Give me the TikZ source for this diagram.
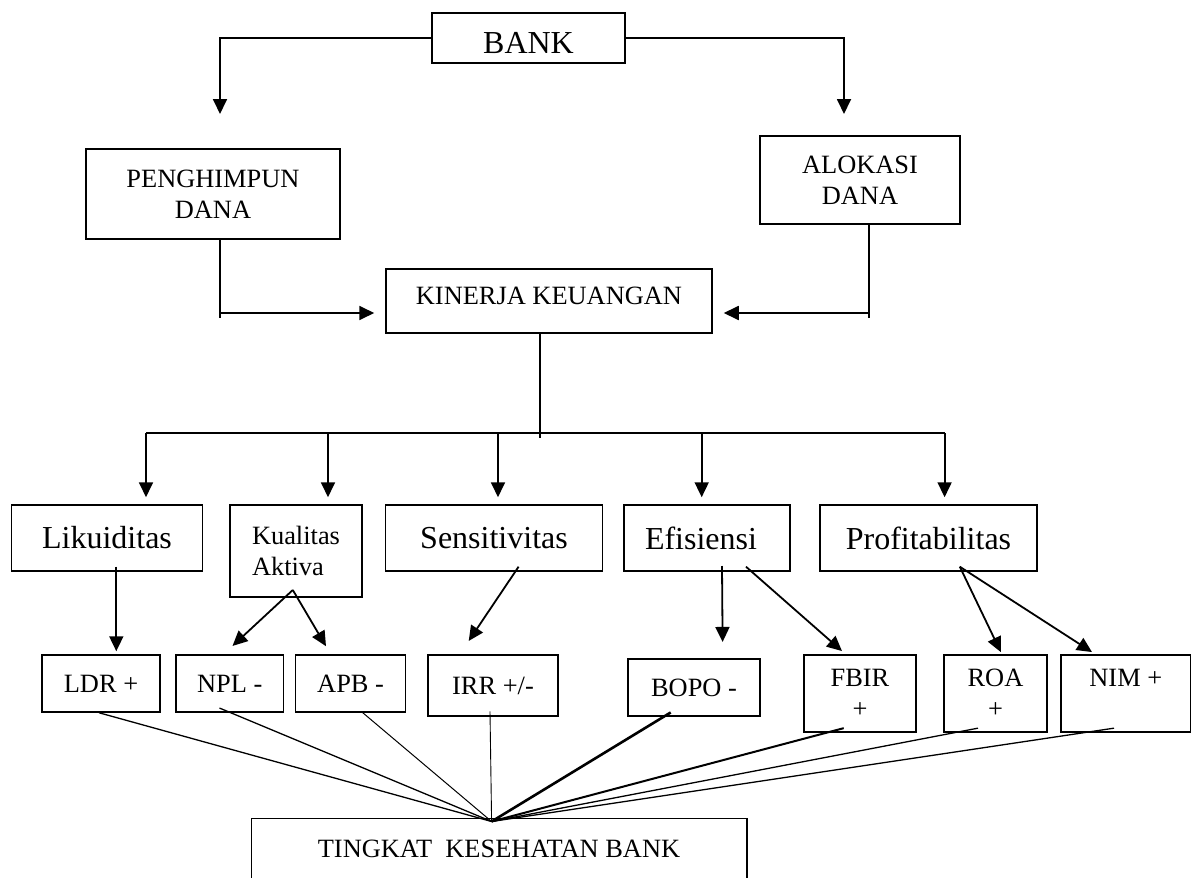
\documentclass[tikz,border=0pt]{standalone}
\usepackage{fontspec}
\setmainfont{Liberation Serif}
\usetikzlibrary{arrows.meta,calc}
\begin{document}
\begin{tikzpicture}[x=1pt,y=-1pt,
 box/.style={draw, line width=1.5pt, inner sep=0pt, align=center, font=\fontsize{26.4}{31}\selectfont},
 bigbox/.style={box, font=\fontsize{32}{38}\selectfont},
 conn/.style={line width=1.8pt},
 arr/.style={line width=1.8pt, -{Triangle[length=15pt,width=14pt]}},
 fan/.style={line width=1.3pt}]
\useasboundingbox (0,0) rectangle (1195,878);
% top
\node[bigbox, minimum width=193pt, minimum height=50pt, text height=31pt] (bank) at (528.5,38) {BANK};
\node[box, minimum width=254pt, minimum height=90pt] (peng) at (213,194) {PENGHIMPUN\\DANA};
\node[box, minimum width=200pt, minimum height=88pt] (alok) at (860,180) {ALOKASI\\DANA};
\node[box, minimum width=326pt, minimum height=64pt, text depth=10pt] (kin) at (549,301) {KINERJA KEUANGAN};
% middle row
\node[bigbox, minimum width=191pt, minimum height=66pt] (lik) at (107,538) {Likuiditas};
\node[box, align=left, minimum width=132pt, minimum height=92pt] (kual) at (296,551) {Kualitas\\Aktiva};
\node[bigbox, minimum width=217pt, minimum height=66pt] (sens) at (494,538) {Sensitivitas};
\node[bigbox, minimum width=166pt, minimum height=66pt] (efi) at (707,538) {\hspace*{-12pt}Efisiensi};
\node[bigbox, minimum width=217pt, minimum height=66pt] (prof) at (928.5,538) {Profitabilitas};
% bottom row
\node[box, minimum width=118pt, minimum height=57pt] (ldr) at (101,683.5) {LDR +};
\node[box, minimum width=107.5pt, minimum height=57pt] (npl) at (229.8,683.5) {NPL -};
\node[box, minimum width=110pt, minimum height=57pt] (apb) at (350.6,683.5) {APB -};
\node[box, minimum width=130pt, minimum height=61pt] (irr) at (493,685.5) {IRR +/-};
\node[box, minimum width=132pt, minimum height=57pt] (bopo) at (694,687.5) {BOPO -};
\node[box, minimum width=112pt, minimum height=77pt] (fbir) at (860,693.3) {FBIR\\+};
\node[box, minimum width=103pt, minimum height=77pt] (roa) at (995.5,693.3) {ROA\\+};
\node[box, minimum width=129.5pt, minimum height=77pt] (nim) at (1125.8,693.3) {NIM +\\\phantom{+}};
\node[box, draw=none, minimum width=494pt, minimum height=59pt] (ting) at (499,848.5) {TINGKAT\ \ KESEHATAN BANK};
\draw[line width=1.5pt] (ting.south west) -- (ting.north west) -- (ting.north east) -- (ting.south east);

% BANK to the two branches
\coordinate (tl) at (220,114);
\coordinate (tr) at (844,114);
\draw[arr] (bank.west) -| (tl);
\draw[arr] (bank.east) -| (tr);

% branches to KINERJA
\coordinate (pb) at (220,318);
\coordinate (pk) at (220,313);
\draw[conn] (peng.south -| pb) -- (pb);
\draw[arr] (pk) -- ($(kin.west |- pk)+(-11,0)$);
\coordinate (ab) at (868.7,318);
\coordinate (ak) at (868.7,313);
\draw[conn] (alok.south -| ab) -- (ab);
\draw[arr] (ak) -- ($(kin.east |- ak)+(11,0)$);

% KINERJA to categories
\coordinate (kb) at (540,438);
\draw[conn] (kin.south -| kb) -- (kb);
\coordinate (b1) at (146,433.3);
\coordinate (b2) at (328,433.3);
\coordinate (b3) at (498,433.3);
\coordinate (b4) at (701.7,433.3);
\coordinate (b5) at (944.6,433.3);
\draw[conn] (b1) -- (b5);
\draw[arr] (b1) -- ($(lik.north -| b1)+(0,-7)$);
\draw[arr] (b2) -- ($(kual.north -| b2)+(0,-7)$);
\draw[arr] (b3) -- ($(sens.north -| b3)+(0,-7)$);
\draw[arr] (b4) -- ($(efi.north -| b4)+(0,-7)$);
\draw[arr] (b5) -- ($(prof.north -| b5)+(0,-7)$);

% categories to ratios
\coordinate (l1) at (116.3,566.7);
\coordinate (q1) at (292.8,590);
\coordinate (s1) at (518.6,566.7);
\coordinate (e1) at (722,566);
\coordinate (e2) at (746,566.7);
\coordinate (r1) at (959.8,566.7);
\draw[arr] (l1) -- ($(ldr.north -| l1)+(0,-3)$);
\draw[arr] (q1) -- ($(npl.north)+(2.7,-8.3)$);
\draw[arr] (q1) -- ($(apb.north)+(-24.6,-8)$);
\draw[arr] (s1) -- ($(irr.north)+(-24.3,-13.3)$);
\draw[arr] (e1) -- ($(bopo.north)+(28.6,-16.3)$);
\draw[arr] (e2) -- ($(fbir.north)+(-18,-3)$);
\draw[arr] (r1) -- ($(roa.north)+(5.3,-2)$);
\draw[arr] (r1) -- ($(nim.north)+(-33.8,-2)$);

% ratios to TINGKAT KESEHATAN BANK
\coordinate (conv) at (491.6,821.5);
\draw[fan] ($(ldr.south)+(-2,0)$) -- (conv);
\draw[fan] ($(npl.south)+(-10.3,-4.7)$) -- (conv);
\draw[fan, line width=1pt] ($(apb.south)+(12.2,0)$) -- (conv);
\draw[fan, line width=0.9pt] ($(irr.south)+(-3,-5.3)$) -- (conv);
\draw[fan, line width=2.6pt] ($(bopo.south)+(-23.3,-4.3)$) -- (conv);
\draw[fan, line width=2pt] ($(fbir.south)+(-16.3,-4.4)$) -- (conv);
\draw[fan] ($(roa.south)+(-17.5,-4.4)$) -- (conv);
\draw[fan] ($(nim.south)+(-11.8,-4.4)$) -- (conv);
\end{tikzpicture}
\end{document}
